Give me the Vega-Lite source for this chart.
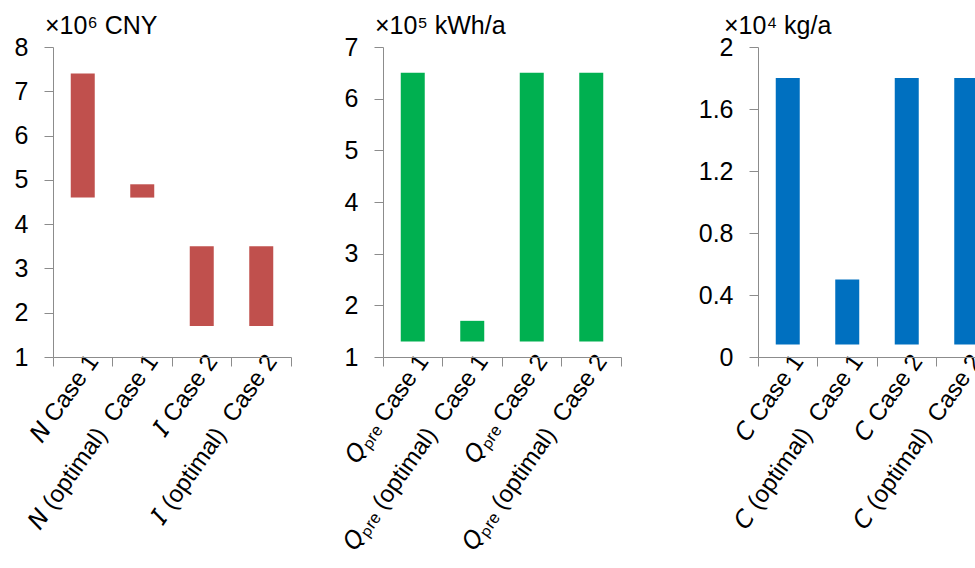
{
  "$schema": "https://vega.github.io/schema/vega-lite/v6.json",
  "padding": {"left": 14, "top": 14, "right": 0, "bottom": 0},
  "config": {
    "view": {"stroke": null},
    "font": "Liberation Sans",
    "axis": {
      "domainColor": "#8c8c8c",
      "tickColor": "#8c8c8c",
      "tickSize": 9,
      "labelFont": "Liberation Sans",
      "labelFontSize": 25,
      "labelColor": "#000000",
      "labelLimit": 400,
      "grid": false,
      "title": null
    },
    "axisX": {
      "labelAngle": -55,
      "labelFontSize": 24,
      "bandPosition": 1,
      "tickExtra": true,
      "labelOffset": 11,
      "labelPadding": -9
    },
    "axisY": {"labelPadding": 16},
    "title": {"font": "Liberation Sans", "fontSize": 25, "fontWeight": "normal", "anchor": "start", "frame": "group", "color": "#000000"}
  },
  "hconcat": [
    {
      "hconcat": [
        {
          "width": 238,
          "height": 310,
          "title": {"text": "×10⁶ CNY", "dx": -8, "offset": -4},
          "data": {"values": [
            {"label": "𝘕 Case 1", "low": 4.6, "high": 7.4},
            {"label": "𝘕 (optimal)\u00a0\u00a0Case 1", "low": 4.6, "high": 4.9},
            {"label": "𝘐 Case 2", "low": 1.7, "high": 3.5},
            {"label": "𝘐 (optimal)\u00a0\u00a0Case 2", "low": 1.7, "high": 3.5}
          ]},
          "mark": {"type": "bar", "color": "#C0504D", "width": 24},
          "encoding": {
            "x": {"field": "label", "type": "nominal", "sort": null, "scale": {"paddingInner": 0, "paddingOuter": 0}},
            "y": {"field": "low", "type": "quantitative", "scale": {"domain": [1, 8], "nice": false, "zero": false}, "axis": {"values": [1, 2, 3, 4, 5, 6, 7, 8]}},
            "y2": {"field": "high"}
          }
        },
        {
          "width": 238,
          "height": 310,
          "title": {"text": "×10⁵ kWh/a", "dx": -8, "offset": -4},
          "data": {"values": [
            {"label": "𝘘ₚᵣₑ Case 1", "low": 1.3, "high": 6.5},
            {"label": "𝘘ₚᵣₑ (optimal)\u00a0\u00a0Case 1", "low": 1.3, "high": 1.7},
            {"label": "𝘘ₚᵣₑ Case 2", "low": 1.3, "high": 6.5},
            {"label": "𝘘ₚᵣₑ (optimal)\u00a0\u00a0Case 2", "low": 1.3, "high": 6.5}
          ]},
          "mark": {"type": "bar", "color": "#00B050", "width": 24},
          "encoding": {
            "x": {"field": "label", "type": "nominal", "sort": null, "scale": {"paddingInner": 0, "paddingOuter": 0}},
            "y": {"field": "low", "type": "quantitative", "scale": {"domain": [1, 7], "nice": false, "zero": false}, "axis": {"values": [1, 2, 3, 4, 5, 6, 7]}},
            "y2": {"field": "high"}
          }
        }
      ],
      "spacing": 92,
      "bounds": "flush"
    },
    {
      "width": 238,
      "height": 310,
      "title": {"text": "×10⁴ kg/a", "dx": -34, "offset": -4},
      "data": {"values": [
        {"label": "𝘊 Case 1", "low": 0.08, "high": 1.8},
        {"label": "𝘊 (optimal)\u00a0\u00a0Case 1", "low": 0.08, "high": 0.5},
        {"label": "𝘊 Case 2", "low": 0.08, "high": 1.8},
        {"label": "𝘊 (optimal)\u00a0\u00a0Case 2", "low": 0.08, "high": 1.8}
      ]},
      "mark": {"type": "bar", "color": "#0070C0", "width": 24},
      "encoding": {
        "x": {"field": "label", "type": "nominal", "sort": null, "scale": {"paddingInner": 0, "paddingOuter": 0}},
        "y": {"field": "low", "type": "quantitative", "scale": {"domain": [0, 2], "nice": false, "zero": false}, "axis": {"values": [0, 0.4, 0.8, 1.2, 1.6, 2], "format": "~g"}},
        "y2": {"field": "high"}
      }
    }
  ],
  "spacing": 76
}
